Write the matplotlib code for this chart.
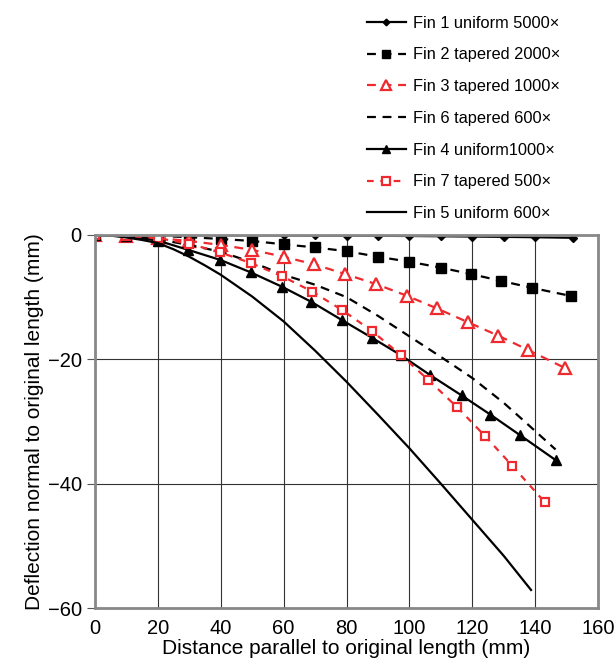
import matplotlib
matplotlib.use('Agg')
import matplotlib.pyplot as plt

plt.rcParams['font.family'] = ['Liberation Sans', 'DejaVu Sans']

RED = '#ee2a2e'

# Fin 1 uniform 5000x (diamonds)
x1 = [0, 10, 20, 30, 40, 50, 60, 70, 80, 90, 100, 110, 120, 130, 140, 152]
y1 = [0, 0, 0, 0, -0.02, -0.04, -0.06, -0.08, -0.1, -0.13, -0.16, -0.2, -0.25, -0.3, -0.36, -0.45]

# Fin 2 tapered 2000x (squares)
x2 = [0, 10, 20, 30, 40, 50, 60, 70, 80, 90, 100, 110, 119.5, 129.3, 139, 151.3]
y2 = [0, -0.05, -0.15, -0.35, -0.64, -0.96, -1.5, -2.0, -2.6, -3.5, -4.3, -5.25, -6.27, -7.4, -8.5, -9.8]

# Fin 3 tapered 1000x (open triangles)
x3 = [0, 10, 20, 30, 40, 50, 60, 69.6, 79.4, 89.4, 99.1, 108.7, 118.5, 128.3, 137.8, 149.5]
y3 = [0, -0.2, -0.5, -0.96, -1.6, -2.4, -3.5, -4.7, -6.25, -7.9, -9.75, -11.8, -14.0, -16.2, -18.5, -21.4]

# Fin 6 tapered 600x (dashed, no markers)
x6 = [0, 10, 20, 30, 40, 50, 60, 70, 80, 90, 100, 110, 120, 130, 136, 146.5]
y6 = [0, -0.2, -0.7, -1.6, -2.7, -4.4, -6.4, -8.0, -10.0, -13.0, -16.3, -19.6, -23.0, -27.0, -29.7, -34.5]

# Fin 4 uniform 1000x (filled triangles)
x4 = [0, 10, 20, 29.7, 39.8, 49.5, 59.4, 68.8, 78.6, 88, 97.2, 106.5, 116.6, 125.8, 135.2, 146.5]
y4 = [0, -0.2, -0.9, -2.4, -4.0, -6.0, -8.3, -10.75, -13.7, -16.5, -19.3, -22.5, -25.8, -28.9, -32.2, -36.2]

# Fin 7 tapered 500x (open squares)
x7 = [0, 10, 20, 30, 39.8, 49.5, 59.4, 69.1, 78.7, 88, 97.3, 106, 115.2, 124, 132.7, 143.1]
y7 = [0, -0.15, -0.5, -1.4, -2.8, -4.5, -6.6, -9.1, -12.1, -15.4, -19.3, -23.3, -27.7, -32.3, -37.1, -43.0]

# Fin 5 uniform 600x (solid, no markers)
x5 = [0, 5, 10, 15, 20, 25, 30, 35, 40, 50, 60, 70, 80, 90, 100, 110, 120, 130, 138.7]
y5 = [0, -0.1, -0.4, -0.8, -1.3, -2.3, -3.5, -4.9, -6.4, -9.9, -13.9, -18.6, -23.6, -28.9, -34.3, -40.0, -45.8, -51.6, -57.1]

fig = plt.figure(figsize=(6.16, 6.61), dpi=100)
ax = fig.add_axes([95 / 616, 1 - 608 / 661, 503 / 616, (608 - 235) / 661])

lw = 1.6
h1, = ax.plot(x1, y1, '-', color='black', lw=lw, marker='D', ms=4, label='Fin 1 uniform 5000×')
h2, = ax.plot(x2, y2, '--', color='black', lw=lw, marker='s', ms=6.5, dashes=(4, 3), label='Fin 2 tapered 2000×')
h3, = ax.plot(x3, y3, '--', color=RED, lw=lw, marker='^', ms=8, mfc='white', mec=RED, mew=1.6,
              dashes=(4, 3), label='Fin 3 tapered 1000×')
h6, = ax.plot(x6, y6, '--', color='black', lw=lw, dashes=(4, 3), label='Fin 6 tapered 600×')
h4, = ax.plot(x4, y4, '-', color='black', lw=lw, marker='^', ms=7, label='Fin 4 uniform1000×')
h7, = ax.plot(x7, y7, '--', color=RED, lw=lw, marker='s', ms=6, mfc='white', mec=RED, mew=1.6,
              dashes=(3, 3), label='Fin 7 tapered 500×')
h5, = ax.plot(x5, y5, '-', color='black', lw=lw, label='Fin 5 uniform 600×')

ax.set_xlim(0, 160)
ax.set_ylim(-60, 0)
ax.set_xticks(range(0, 161, 20))
ax.set_yticks([-60, -40, -20, 0])
ax.set_yticklabels(['\u221260', '\u221240', '\u221220', '0'])
ax.grid(True, color='#333333', lw=0.8)
ax.set_axisbelow(True)
for s in ax.spines.values():
    s.set_color('#888888')
    s.set_linewidth(2)
ax.tick_params(axis='x', length=0, labelsize=14.5, pad=8, colors='#888888', labelcolor='black')
ax.tick_params(axis='y', length=6, labelsize=14.5, colors='#555555', labelcolor='black')

ax.set_xlabel('Distance parallel to original length (mm)', fontsize=15, labelpad=1)
ax.set_ylabel('Deflection normal to original length (mm)', fontsize=15, labelpad=3)

fig.legend(handles=[h1, h2, h3, h6, h4, h7, h5], loc='upper left',
           bbox_to_anchor=(352 / 616, 1 - 1 / 661), frameon=False, fontsize=11.8,
           handlelength=2.4, handletextpad=0.4, labelspacing=1.02, markerscale=0.85)

fig.savefig('out.png', dpi=100)
